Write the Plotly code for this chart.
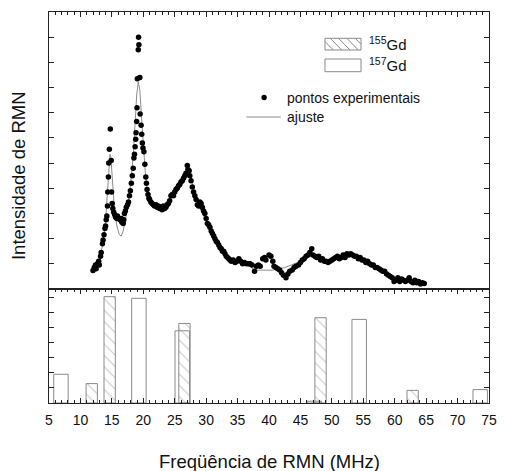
import plotly.graph_objects as go

# ---------------- data ----------------
exp_freq = [12.0, 12.2, 12.4, 12.5, 12.7, 12.9, 13.0, 13.2, 13.3, 13.5, 13.6, 13.75, 13.9, 14.0, 14.1,
            14.2, 14.3, 14.35, 14.45, 14.5, 14.6, 14.75, 14.9, 14.95, 15.05, 15.15, 15.3, 15.45, 15.6,
            15.8, 15.9, 16.1, 16.3, 16.5, 16.6, 16.8, 16.9, 17.0, 17.15, 17.3, 17.5, 17.65, 17.8, 17.95,
            18.1, 18.25, 18.4, 18.5, 18.6, 18.7, 18.8, 18.85, 18.95, 19.0, 19.05, 19.2, 19.25, 19.3,
            19.45, 19.5, 19.65, 19.75, 19.85, 19.95, 20.1, 20.25, 20.4, 20.5, 20.6, 20.75, 20.9, 21.0,
            21.2, 21.4, 21.6, 21.8, 22.0, 22.2, 22.4, 22.6, 22.8, 23.0, 23.2, 23.4, 23.6, 23.8, 24.0,
            24.2, 24.4, 24.6, 24.8, 25.0, 25.2, 25.4, 25.6, 25.8, 26.0, 26.2, 26.4, 26.6, 26.8, 27.0,
            27.1, 27.3, 27.4, 27.6, 27.8, 28.0, 28.2, 28.4, 28.6, 28.8, 29.0, 29.2, 29.4, 29.6, 29.8,
            30.0, 30.2, 30.4, 30.6, 30.8, 31.0, 31.2, 31.4, 31.6, 31.8, 32.0, 32.2, 32.4, 32.6, 32.8,
            33.0, 33.2, 33.4, 33.6, 33.8, 34.0, 34.3, 34.6, 34.9, 35.2, 35.5, 35.8, 36.1, 36.4, 36.7,
            37.0, 37.3, 37.7, 38.0, 38.3, 38.6, 39.0, 39.3, 39.5, 40.0, 40.3, 40.6, 40.8, 41.1, 41.4,
            41.7, 42.0, 42.3, 42.7, 43.0, 43.3, 43.7, 44.0, 44.3, 44.7, 45.0, 45.3, 45.6, 45.9, 46.2,
            46.5, 46.8, 47.0, 47.3, 47.6, 47.9, 48.2, 48.5, 48.8, 49.1, 49.4, 49.7, 50.0, 50.3, 50.6,
            50.9, 51.2, 51.5, 51.8, 52.1, 52.4, 52.7, 53.0, 53.3, 53.6, 53.9, 54.2, 54.5, 54.8, 55.1,
            55.4, 55.7, 56.0, 56.3, 56.6, 56.9, 57.2, 57.5, 57.8, 58.1, 58.4, 58.7, 59.0, 59.3, 59.6,
            59.9, 60.2, 60.5, 60.8, 61.1, 61.4, 61.7, 62.0, 62.3, 62.6, 62.9, 63.2, 63.5, 63.8, 64.1,
            64.4, 64.7]
exp_int = [0.73, 0.85, 0.95, 0.8, 1.0, 1.1, 0.95, 1.3, 1.45, 1.8, 1.95, 2.15, 2.4, 2.5, 2.75,
           2.9, 3.3, 3.85, 4.45, 5.0, 5.55, 6.35, 5.1, 3.85, 3.4, 3.2, 3.05, 2.95, 2.85,
           2.8, 2.9, 2.8, 2.75, 2.8, 2.65, 2.6, 2.75, 3.0, 3.1, 3.25, 3.35, 3.45, 3.7, 3.9,
           4.2, 4.5, 4.8, 5.2, 5.35, 5.65, 5.95, 6.2, 6.65, 7.2, 8.35, 9.5, 10.0, 9.7,
           8.4, 6.95, 6.5, 6.15, 5.8, 5.6, 5.45, 4.95, 4.45, 4.2, 3.95, 3.75, 3.6, 3.55,
           3.45, 3.4, 3.35, 3.3, 3.35, 3.25, 3.3, 3.2, 3.25, 3.15, 3.3, 3.2, 3.25, 3.35, 3.4,
           3.5, 3.7, 3.75, 3.7, 3.85, 3.95, 4.0, 4.1, 4.15, 4.25, 4.3, 4.4, 4.5, 4.6, 4.9,
           4.75, 4.7, 4.5, 4.3, 4.05, 3.85, 3.7, 3.55, 3.35, 3.3, 3.45, 3.4, 3.25, 3.1, 3.0,
           2.8, 2.6, 2.55, 2.45, 2.3, 2.2, 2.1, 2.0, 1.9, 1.85, 1.75, 1.65, 1.6, 1.5, 1.5,
           1.4, 1.3, 1.25, 1.2, 1.15, 1.1, 1.15, 1.05, 1.1, 1.2, 1.1, 1.0, 1.05, 1.0, 1.0,
           1.0, 0.95, 0.7, 0.9, 0.95, 0.9, 1.2, 1.25, 1.15, 1.35, 1.3, 1.1, 0.9, 0.85, 0.8,
           0.75, 0.65, 0.55, 0.45, 0.6, 0.7, 0.75, 0.85, 0.9, 0.95, 1.05, 1.15, 1.2, 1.3, 1.35,
           1.45, 1.6, 1.35, 1.3, 1.25, 1.3, 1.15, 1.2, 1.1, 1.1, 1.05, 1.1, 1.15, 1.2, 1.25,
           1.3, 1.2, 1.25, 1.35, 1.25, 1.4, 1.35, 1.4, 1.35, 1.3, 1.3, 1.2, 1.25, 1.15, 1.15,
           1.05, 1.1, 1.0, 0.95, 0.95, 0.85, 0.85, 0.8, 0.75, 0.7, 0.7, 0.6, 0.55, 0.5, 0.45,
           0.3, 0.35, 0.45, 0.3, 0.4, 0.35, 0.3, 0.35, 0.45, 0.3, 0.25, 0.35, 0.25, 0.3, 0.2,
           0.25, 0.22]

fit_freq = [12.0, 12.5, 13.0, 13.5, 14.0, 14.3, 14.55, 14.7, 14.85, 15.1, 15.4, 15.8, 16.2, 16.5,
            16.8, 17.2, 17.6, 18.0, 18.4, 18.7, 18.95, 19.2, 19.45, 19.7, 20.0, 20.3, 20.6, 21.0,
            21.5, 22.0, 22.5, 23.0, 23.5, 24.0, 24.5, 25.0, 25.5, 26.0, 26.5, 27.0, 27.5, 28.0,
            28.5, 29.0, 29.5, 30.0, 30.5, 31.0, 31.5, 32.0, 32.5, 33.0, 33.5, 34.0, 35.0, 36.0,
            37.0, 37.7, 40.6, 41.5, 42.5, 43.5, 44.5, 45.5, 46.5, 47.5, 48.5, 49.5, 50.5, 51.5,
            52.5, 53.5, 54.5, 55.5, 56.5, 57.5, 58.5, 59.5, 60.5, 61.5, 62.5, 63.5, 64.8]
fit_int = [0.8, 0.95, 1.2, 1.7, 2.7, 3.8, 4.9, 5.35, 5.2, 4.3, 3.2, 2.5, 2.15, 2.1,
           2.3, 2.8, 3.4, 4.2, 5.3, 6.6, 7.7, 8.23, 7.9, 6.9, 5.7, 4.7, 4.0, 3.55,
           3.3, 3.2, 3.15, 3.15, 3.25, 3.4, 3.65, 3.9, 4.15, 4.4, 4.6, 4.65, 4.45, 4.0,
           3.55, 3.2, 2.95, 2.7, 2.45, 2.2, 1.95, 1.75, 1.55, 1.4, 1.25, 1.15, 1.05, 0.98,
           0.9, 0.75, 0.75, 0.8, 0.85, 0.95, 1.05, 1.2, 1.3, 1.3, 1.2, 1.15, 1.18, 1.25,
           1.3, 1.32, 1.25, 1.1, 0.95, 0.8, 0.65, 0.5, 0.4, 0.33, 0.3, 0.27, 0.22]

gd157_freq = [6.9, 19.3, 26.2, 47.2, 54.35, 73.6]
gd157_int = [1.91, 6.96, 4.8, 0.12, 5.56, 0.89]
gd155_freq = [11.8, 14.65, 26.55, 48.2, 62.85]
gd155_int = [1.29, 7.07, 5.29, 5.67, 0.84]

x_ticks = [5, 10, 15, 20, 25, 30, 35, 40, 45, 50, 55, 60, 65, 70, 75]

# ---------------- style ----------------
FONT = "Liberation Sans, Arial, sans-serif"
AX = "#222222"
BARLINE = "#8a8a8a"

W, H = 505, 471
ML, MR, MT, MB = 49, 8, 12, 68
SPLIT = (403 - 289) / (403 - 12)

TOP_YMAX = 11.0
BOT_YMAX = 7.58


def px2x(px):
    return 5 + (px - 49) * 70 / 448


def py2y(py):
    return (289 - py) * TOP_YMAX / 277


fig = go.Figure()

fig.add_trace(go.Scatter(x=fit_freq, y=fit_int, mode="lines", xaxis="x2", yaxis="y2",
                         line=dict(color="#8c8c8c", width=1), showlegend=False, hoverinfo="skip"))
fig.add_trace(go.Scatter(x=exp_freq, y=exp_int, mode="markers", xaxis="x2", yaxis="y2",
                         marker=dict(color="black", size=5.5), showlegend=False))

fig.add_trace(go.Bar(x=gd157_freq, y=gd157_int, width=[2.3] * len(gd157_freq),
                     xaxis="x", yaxis="y", showlegend=False,
                     marker=dict(color="rgba(0,0,0,0)", line=dict(color=BARLINE, width=1))))
fig.add_trace(go.Bar(x=gd155_freq, y=gd155_int, width=[1.8] * len(gd155_freq),
                     xaxis="x", yaxis="y", showlegend=False,
                     marker=dict(color="rgba(0,0,0,0)", line=dict(color=BARLINE, width=1),
                                 pattern=dict(shape="\\", fgcolor=BARLINE, bgcolor="rgba(0,0,0,0)",
                                              size=8, solidity=0.12))))

# ---------------- manual legend ----------------
shapes = []
annotations = []

shapes.append(dict(type="circle", xref="x2", yref="y2", xsizemode="pixel", ysizemode="pixel",
                   xanchor=px2x(268), yanchor=py2y(97.5), x0=-2.7, x1=2.7, y0=-2.7, y1=2.7,
                   fillcolor="black", line=dict(color="black", width=0)))
shapes.append(dict(type="line", xref="x2", yref="y2", x0=px2x(250), x1=px2x(285),
                   y0=py2y(117), y1=py2y(117), line=dict(color="#8c8c8c", width=1)))
annotations.append(dict(x=px2x(289), y=py2y(97.5), xref="x2", yref="y2", text="pontos experimentais",
                        showarrow=False, xanchor="left", yanchor="middle",
                        font=dict(family=FONT, size=14, color="#111")))
annotations.append(dict(x=px2x(289), y=py2y(116.5), xref="x2", yref="y2", text="ajuste",
                        showarrow=False, xanchor="left", yanchor="middle",
                        font=dict(family=FONT, size=14, color="#111")))

for (top, bot, hatched, label) in [(38.3, 50.0, True, "155"), (59.0, 71.7, False, "157")]:
    L, R = 330.0, 366.7
    shapes.append(dict(type="rect", xref="x2", yref="y2", x0=px2x(L), x1=px2x(R),
                       y0=py2y(bot), y1=py2y(top), line=dict(color=BARLINE, width=1),
                       fillcolor="rgba(0,0,0,0)"))
    if hatched:
        h = bot - top
        xs = L - h
        while xs < R:
            t0 = max(0.0, L - xs)
            t1 = min(h, R - xs)
            if t1 > t0:
                shapes.append(dict(type="line", xref="x2", yref="y2",
                                   x0=px2x(xs + t0), y0=py2y(top + t0),
                                   x1=px2x(xs + t1), y1=py2y(top + t1),
                                   line=dict(color=BARLINE, width=1)))
            xs += 8.5
    mid = (top + bot) / 2
    annotations.append(dict(x=px2x(373), y=py2y(mid - 1), xref="x2", yref="y2",
                            text="<sup>" + label + "</sup>Gd",
                            showarrow=False, xanchor="left", yanchor="middle",
                            font=dict(family=FONT, size=15, color="#111")))

annotations.append(dict(x=(18 - ML) / 448, y=(403 - 175.5) / 391, xref="paper", yref="paper",
                        text="Intensidade de RMN", textangle=-90, showarrow=False,
                        xanchor="center", yanchor="middle",
                        font=dict(family=FONT, size=18.5, color="#111")))
annotations.append(dict(x=(273 - ML) / 448, y=-(461 - 403) / 391, xref="paper", yref="paper",
                        text="Freqüência de RMN (MHz)", showarrow=False,
                        xanchor="center", yanchor="middle",
                        font=dict(family=FONT, size=18.5, color="#111")))

common_x = dict(range=[5, 75], showline=True, linecolor=AX, linewidth=1.2, showgrid=False,
                zeroline=False, ticks="inside", ticklen=5, tickcolor=AX, tickwidth=1,
                tickvals=x_ticks,
                minor=dict(dtick=1, tick0=5, ticks="inside", ticklen=3, tickcolor=AX, tickwidth=1,
                           showgrid=False))

fig.update_layout(
    width=W, height=H,
    margin=dict(l=ML, r=MR, t=MT, b=MB, pad=0),
    paper_bgcolor="white", plot_bgcolor="white",
    barmode="overlay", showlegend=False,
    font=dict(family=FONT, size=14, color="#111"),
    xaxis=dict(**common_x, anchor="y", domain=[0, 1], mirror="allticks",
               ticktext=[str(v) for v in x_ticks], showticklabels=True, ticklabelstandoff=4,
               tickfont=dict(family=FONT, size=14, color="#111")),
    yaxis=dict(domain=[0, SPLIT], range=[0, BOT_YMAX], showline=True, linecolor=AX, linewidth=1.2,
               mirror="ticks", ticks="inside", ticklen=5, tickcolor=AX, tickvals=[1, 2, 3, 4, 5, 6, 7],
               showticklabels=False, showgrid=False, zeroline=False),
    xaxis2=dict(**common_x, anchor="y2", domain=[0, 1], side="top", mirror=True,
                showticklabels=False),
    yaxis2=dict(domain=[SPLIT, 1], range=[0, TOP_YMAX], showline=True, linecolor=AX, linewidth=1.2,
                mirror="ticks", ticks="inside", ticklen=5, tickcolor=AX,
                tickvals=[1, 2, 3, 4, 5, 6, 7, 8, 9, 10],
                showticklabels=False, showgrid=False, zeroline=False),
    shapes=shapes,
    annotations=annotations,
)

fig.write_html("out.html", config={"displayModeBar": False},
               post_script="document.body.style.margin='0';document.body.style.overflow='hidden';")
